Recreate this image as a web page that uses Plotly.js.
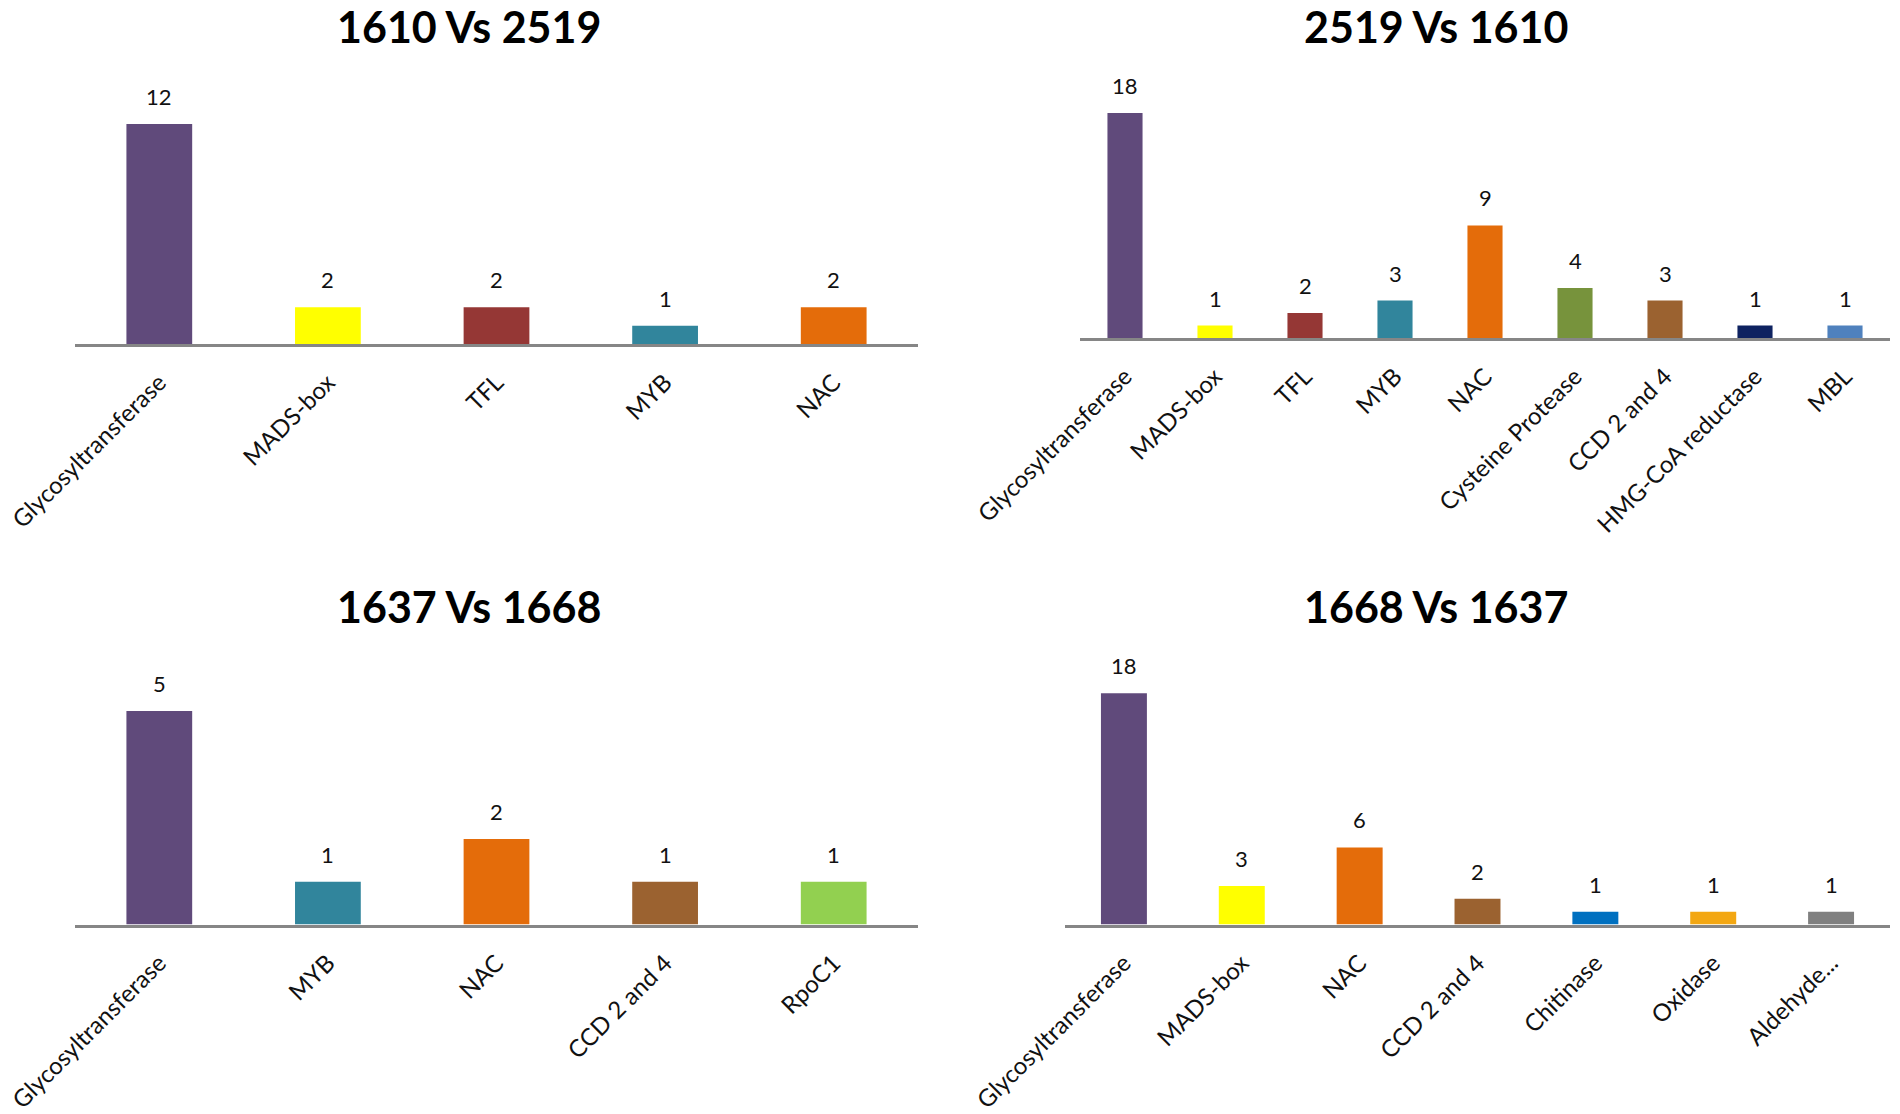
<!DOCTYPE html>
<html>
<head>
<meta charset="utf-8">
<script src="https://cdn.plot.ly/plotly-3.0.1.min.js"></script>
<style>
  html, body { margin: 0; padding: 0; background: #fff; }
  #chart { width: 1900px; height: 1114px; }
</style>
</head>
<body>
<div id="chart"></div>
<script>
// panel 1: 1610 Vs 2519
const cats1 = ["Glycosyltransferase", "MADS-box", "TFL", "MYB", "NAC"];
const vals1 = [12, 2, 2, 1, 2];
const cols1 = ["#604A7B", "#FFFF00", "#953735", "#31859C", "#E46C0A"];

// panel 2: 2519 Vs 1610
const cats2 = ["Glycosyltransferase", "MADS-box", "TFL", "MYB", "NAC",
               "Cysteine Protease", "CCD 2 and 4", "HMG-CoA reductase", "MBL"];
const vals2 = [18, 1, 2, 3, 9, 4, 3, 1, 1];
const cols2 = ["#604A7B", "#FFFF00", "#953735", "#31859C", "#E46C0A",
               "#77933C", "#9B6230", "#0E2260", "#4F81BD"];

// panel 3: 1637 Vs 1668
const cats3 = ["Glycosyltransferase", "MYB", "NAC", "CCD 2 and 4", "RpoC1"];
const vals3 = [5, 1, 2, 1, 1];
const cols3 = ["#604A7B", "#31859C", "#E46C0A", "#9B6230", "#92D050"];

// panel 4: 1668 Vs 1637
const cats4 = ["Glycosyltransferase", "MADS-box", "NAC", "CCD 2 and 4",
               "Chitinase", "Oxidase", "Aldehyde..."];
const vals4 = [18, 3, 6, 2, 1, 1, 1];
const cols4 = ["#604A7B", "#FFFF00", "#E46C0A", "#9B6230", "#0070C0", "#F3A712", "#808080"];

const titles = ["1610 Vs 2519", "2519 Vs 1610", "1637 Vs 1668", "1668 Vs 1637"];

const W = 1900, H = 1114;
const FONT = "Lato, 'Open Sans', sans-serif";

// layout of each panel in pixels: left, right, axis line y, top, px per unit, title x, title y
const panels = [
  {cats: cats1, vals: vals1, cols: cols1, left: 75,   right: 918,  bottom: 344,   top: 60,  ppu: 18.33, tx: 469,  ty: 26},
  {cats: cats2, vals: vals2, cols: cols2, left: 1080, right: 1890, bottom: 338,   top: 60,  ppu: 12.5,  tx: 1436, ty: 26},
  {cats: cats3, vals: vals3, cols: cols3, left: 75,   right: 918,  bottom: 924.5, top: 650, ppu: 42.7,  tx: 469,  ty: 606},
  {cats: cats4, vals: vals4, cols: cols4, left: 1065, right: 1890, bottom: 924.5, top: 650, ppu: 12.85, tx: 1436, ty: 606}
];

let data = [];
let layout = {
  width: W, height: H,
  margin: {l: 0, r: 0, t: 0, b: 0},
  paper_bgcolor: "#fff",
  plot_bgcolor: "rgba(0,0,0,0)",
  showlegend: false,
  bargap: 0.61,
  font: {family: FONT, color: "#000"},
  annotations: []
};

panels.forEach((p, i) => {
  let n = i + 1;
  let xa = "x" + (n === 1 ? "" : n);
  let ya = "y" + (n === 1 ? "" : n);
  data.push({
    type: "bar",
    x: p.cats,
    y: p.vals,
    marker: {color: p.cols},
    xaxis: xa,
    yaxis: ya,
    hoverinfo: "x+y"
  });

  layout["xaxis" + (n === 1 ? "" : n)] = {
    domain: [p.left / W, p.right / W],
    anchor: ya,
    type: "category",
    range: [-0.5, p.cats.length - 0.5],
    showline: true,
    linecolor: "#868686",
    linewidth: 3,
    showgrid: false,
    zeroline: false,
    ticks: "",
    tickangle: -45,
    ticklabelstandoff: 12,
    tickfont: {family: FONT, size: 24, color: "#111"},
    fixedrange: true
  };
  layout["yaxis" + (n === 1 ? "" : n)] = {
    domain: [1 - p.bottom / H, 1 - p.top / H],
    anchor: xa,
    range: [0, (p.bottom - p.top) / p.ppu],
    visible: false,
    fixedrange: true
  };

  // value labels above bars
  p.cats.forEach((c, j) => {
    layout.annotations.push({
      xref: xa, yref: ya,
      x: c, y: p.vals[j],
      text: String(p.vals[j]),
      showarrow: false,
      yanchor: "bottom",
      yshift: 12,
      font: {family: FONT, size: 22, color: "#111"}
    });
  });

  // panel title
  layout.annotations.push({
    xref: "paper", yref: "paper",
    x: p.tx / W, y: 1 - p.ty / H,
    xanchor: "center", yanchor: "middle",
    text: "<b>" + titles[i] + "</b>",
    showarrow: false,
    font: {family: FONT, size: 43, color: "#000"}
  });
});

Plotly.newPlot("chart", data, layout, {displayModeBar: false, staticPlot: true});
</script>
</body>
</html>
